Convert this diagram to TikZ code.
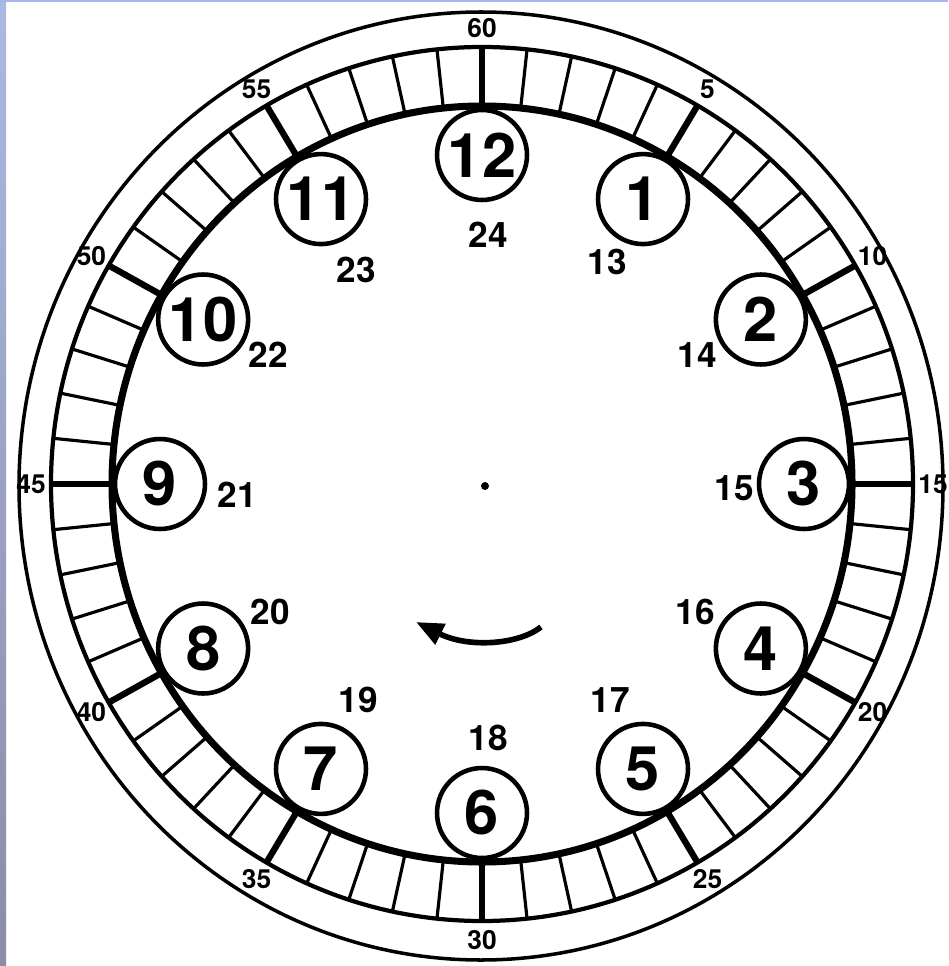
\documentclass[tikz,border=0pt]{standalone}
\usepackage{fontspec}
\setmainfont{TeX Gyre Heros}
\usetikzlibrary{arrows.meta}
\definecolor{frameblueA}{HTML}{A9B9E3}
\definecolor{frameblueB}{HTML}{8C8CA6}
\definecolor{frametop}{HTML}{A8B4EC}
\begin{document}
\begin{tikzpicture}[x=0.02cm,y=-0.02cm,
  hourcirc/.style={circle,draw,line width=2.6pt,minimum size=1.8cm,inner sep=0pt,
    font=\bfseries\fontsize{35}{35}\selectfont},
  daylbl/.style={inner sep=0pt,font=\bfseries\fontsize{20}{20}\selectfont},
  minlbl/.style={inner sep=0pt,font=\bfseries\fontsize{15}{15}\selectfont},
  thintick/.style={line width=1.8pt},
  thicktick/.style={line width=3.6pt}
]
\useasboundingbox (0,0) rectangle (948,966);
\fill[white] (0,0) rectangle (948,966);
% frame strips
\shade[top color=frameblueA,bottom color=frameblueB] (0,0) rectangle (6,966);
\fill[frametop] (0,0) rectangle (948,2);

% rings
\draw[line width=2pt] (481,486) ellipse [x radius=462, y radius=474];
\draw[line width=2.4pt] (482,484) ellipse [x radius=431, y radius=437];
\draw[line width=4pt] (482,484) ellipse [x radius=370, y radius=378];

% minute ticks
\foreach \i in {0,...,59}{
  \pgfmathtruncatemacro\m{mod(\i,5)}
  \ifnum\m=0
    \draw[thicktick] ({482+370*cos(90-6*\i)},{484-378*sin(90-6*\i)}) -- ({482+431*cos(90-6*\i)},{484-437*sin(90-6*\i)});
  \else
    \draw[thintick] ({482+370*cos(90-6*\i)},{484-378*sin(90-6*\i)}) -- ({482+431*cos(90-6*\i)},{484-437*sin(90-6*\i)});
  \fi
}

% minute labels
\foreach \k/\t in {0/60,1/5,2/10,3/15,4/20,5/25,6/30,7/35,8/40,9/45,10/50,11/55}{
  \node[minlbl] (m\t) at ({482+451*cos(90-30*\k)},{484-456*sin(90-30*\k)}) {\t};
}

% hour circles
\foreach \h in {1,...,12}{
  \node[hourcirc] (h\h) at ({482+322*cos(90-30*\h)},{484-329*sin(90-30*\h)}) {\h};
}

% 24-hour labels
\node[daylbl] (d24) at (488,235) {24};
\node[daylbl] (d13) at (607,262) {13};
\node[daylbl] (d14) at (697,355) {14};
\node[daylbl] (d15) at (734,488) {15};
\node[daylbl] (d16) at (695,612) {16};
\node[daylbl] (d17) at (610,700) {17};
\node[daylbl] (d18) at (488,738) {18};
\node[daylbl] (d19) at (358,700) {19};
\node[daylbl] (d20) at (270,612) {20};
\node[daylbl] (d21) at (237,495) {21};
\node[daylbl] (d22) at (268,355) {22};
\node[daylbl] (d23) at (356,270) {23};

% centre dot
\fill (485,486) circle [radius=4];

% direction arrow
\coordinate (arrS) at (541,627);
\coordinate (arrE) at (416,622);
\draw[line width=3.2pt,-{Triangle[length=0.55cm,width=0.44cm]}]
  (arrS) .. controls (518,645) and (468,648) .. (arrE);
\end{tikzpicture}
\end{document}
